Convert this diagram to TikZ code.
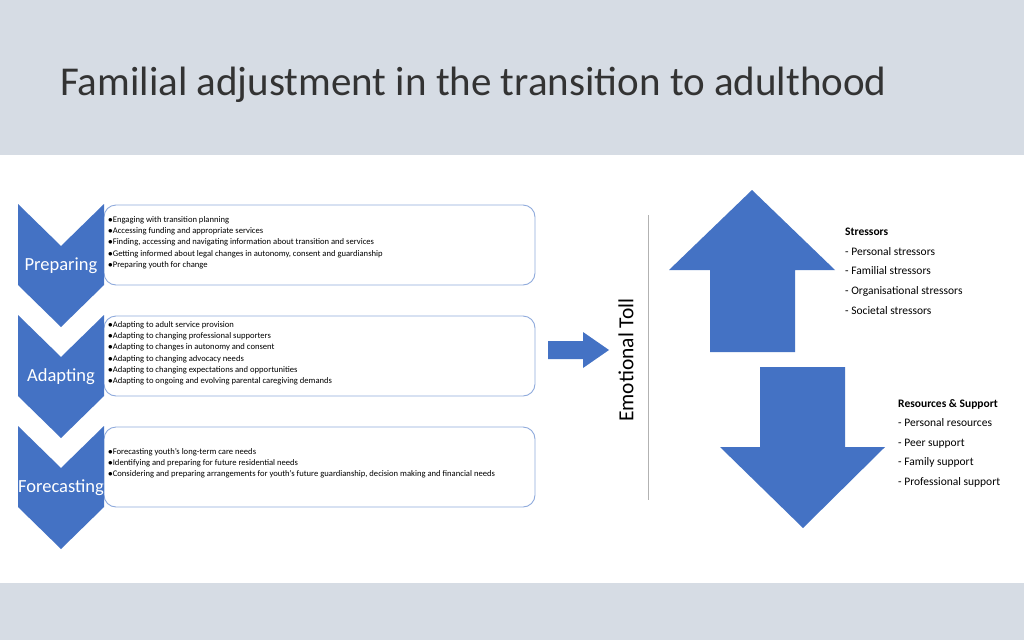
\documentclass[tikz,border=0pt]{standalone}
\usepackage{fontspec}
\setmainfont{Carlito}
\usetikzlibrary{positioning}
\definecolor{slide}{HTML}{D6DCE4}
\definecolor{chev}{HTML}{4472C4}
\definecolor{frame}{HTML}{8FAADC}
\tikzset{
  chevron/.style={fill=chev,draw=none},
  stage/.style={text=white,font=\fontsize{18.5}{20}\selectfont,inner sep=0pt},
  itembox/.style={draw=frame,line width=0.9pt,rounded corners=12pt},
  items/.style={anchor=north west,align=left,inner sep=0pt,font=\fontsize{8.6}{11.3}\selectfont},
  sidelist/.style={anchor=north west,align=left,inner sep=0pt,font=\fontsize{11.5}{19.6}\selectfont}
}
\begin{document}
\begin{tikzpicture}[x=1pt,y=-1pt]
        % background and white band
        \fill[slide] (0,0) rectangle (1024,640);
        \fill[white] (0,155) rectangle (1024,583);
        \useasboundingbox (0,0) rectangle (1024,640);
        \node[anchor=west,inner sep=0pt,font=\fontsize{41}{46}\selectfont,text=black!80] (title) at (60,85) {Familial adjustment in the transition to adulthood};

        % stage boxes and chevrons
        \foreach \y/\name in {204/prep,315/adap,426/fore} {
                \draw[itembox] (104,\y+1) rectangle (535,\y+81);
                \fill[chevron] (18,\y) -- (61,\y+42) -- (104,\y) -- (104,\y+81) -- (61,\y+123) -- (18,\y+81) -- cycle;
                \coordinate (\name) at (61,\y+62);
        }
        \node[stage] (prepl) at (prep) {Preparing};
        \node[stage] (adapl) at (adap) {Adapting};
        \node[stage] (forel) at (fore) {Forecasting};

        \node[items] (prept) at (108,216) {$\bullet$Engaging with transition planning\\$\bullet$Accessing funding and appropriate services\\$\bullet$Finding, accessing and navigating information about transition and services\\$\bullet$Getting informed about legal changes in autonomy, consent and guardianship\\$\bullet$Preparing youth for change};
        \node[items] (adapt) at (108,321) {$\bullet$Adapting to adult service provision\\$\bullet$Adapting to changing professional supporters\\$\bullet$Adapting to changes in autonomy and consent\\$\bullet$Adapting to changing advocacy needs\\$\bullet$Adapting to changing expectations and opportunities\\$\bullet$Adapting to ongoing and evolving parental caregiving demands};
        \node[items] (foret) at (108,448) {$\bullet$Forecasting youth's long-term care needs\\$\bullet$Identifying and preparing for future residential needs\\$\bullet$Considering and preparing arrangements for youth's future guardianship, decision making and financial needs};

        % arrow to emotional toll
        \fill[chevron] (548,341) -- (583,341) -- (583,332) -- (609,350) -- (583,368) -- (583,359) -- (548,359) -- cycle;
        \node[rotate=90,inner sep=0pt,font=\fontsize{21.5}{24}\selectfont] (toll) at (626,360) {Emotional Toll};
        \draw[black!30,line width=0.8pt] (648,215) -- (648,500);

        % up and down arrows
        \fill[chevron] (710,352) -- (710,270) -- (669,270) -- (752,190) -- (835,270) -- (795,270) -- (795,352) -- cycle;
        \fill[chevron] (760,367) -- (845,367) -- (845,447) -- (885,447) -- (803,528) -- (720,447) -- (760,447) -- cycle;

        \node[sidelist] (stress) at (845,228) {\textbf{Stressors}\\- Personal stressors\\- Familial stressors\\- Organisational stressors\\- Societal stressors};
        \node[sidelist] (support) at (898,399) {\textbf{Resources \& Support}\\- Personal resources\\- Peer support\\- Family support\\- Professional support};
\end{tikzpicture}
\end{document}
